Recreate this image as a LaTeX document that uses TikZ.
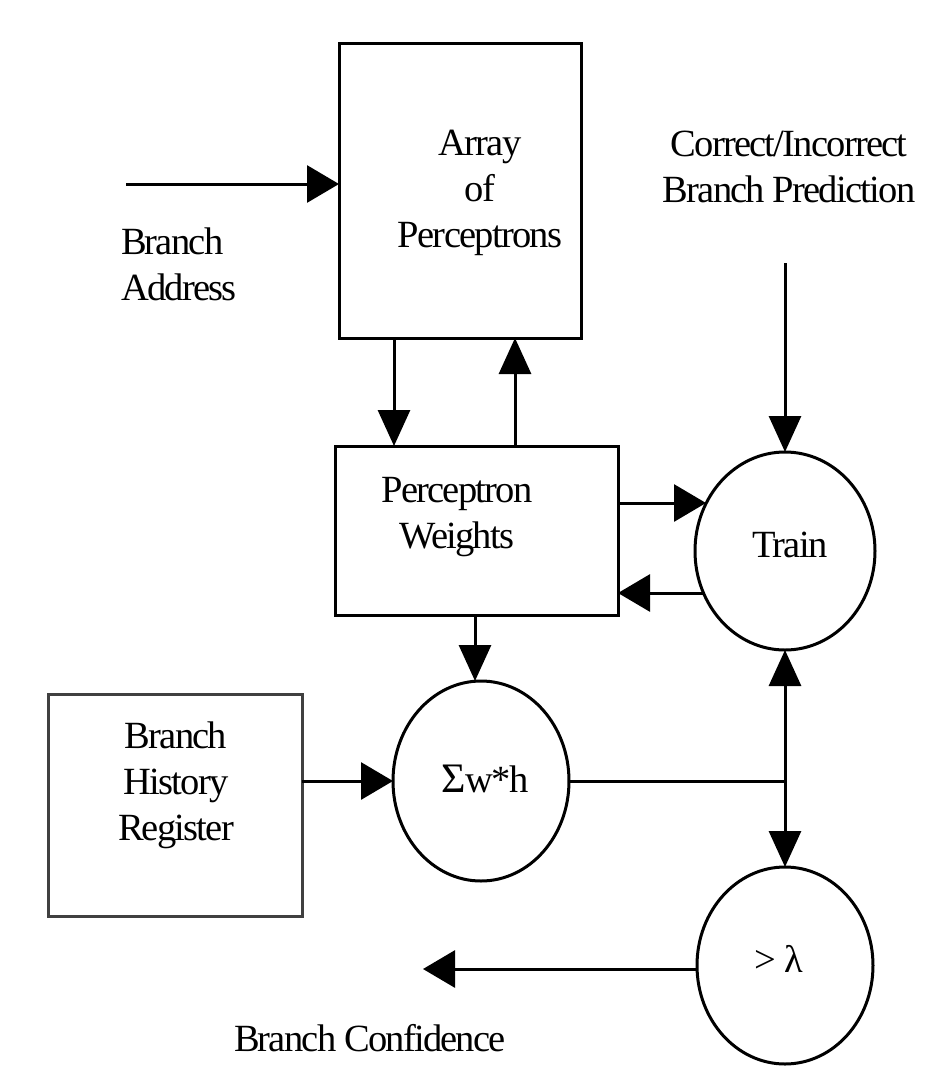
\documentclass[tikz,border=0pt]{standalone}
\usepackage{fontspec}
\setmainfont{Liberation Serif}[LetterSpace=-4.6]
\usetikzlibrary{arrows.meta,shapes.geometric}
\begin{document}
\begin{tikzpicture}[x=1pt,y=-1pt, line width=3pt,
  box/.style={draw, rectangle, inner sep=0pt, outer sep=0pt},
  oval/.style={draw, ellipse, inner sep=0pt, outer sep=0pt},
  lbl/.style={font=\fontsize{38.5}{46}\selectfont, inner sep=0pt, outer sep=0pt, anchor=base, align=center},
  harr/.style={-{Triangle[length=32pt,width=37pt]}},
  varr/.style={-{Triangle[length=36pt,width=32pt]}}]
\useasboundingbox (0,0) rectangle (948,1080);
\fill[white] (0,0) rectangle (948,1080);

% shapes
\node[box, minimum width=242pt, minimum height=295pt] (arr) at (460,190.5) {};
\node[box, minimum width=283pt, minimum height=169pt] (pw) at (476.5,530.5) {};
\node[box, draw=black!75, minimum width=254pt, minimum height=222pt] (bhr) at (175,805) {};
\node[oval, minimum width=176pt, minimum height=200pt] (sum) at (481,781) {};
\node[oval, minimum width=180pt, minimum height=198pt] (train) at (785,551) {};
\node[oval, minimum width=176pt, minimum height=197pt] (gt) at (785,965.5) {};

% texts (base anchor = baseline of the last line)
\node[lbl] (tarr) at (480,247) {Array\\of\\Perceptrons};
\node[lbl] (tpw) at (457,548) {Perceptron\\Weights};
\node[lbl, anchor=base west, align=left] (tba) at (121,300) {Branch\\Address};
\node[lbl] (tcor) at (789,202) {Correct/Incorrect\\Branch Prediction};
\node[lbl] (ttrain) at (790,557) {Train};
\node[lbl] (tbhr) at (176,840) {Branch\\History\\Register};
\node[lbl] (tsum) at (485,792) {{\fontsize{42}{46}\selectfont Σ}w*h};
\node[lbl] (tgt) at (779,972) {> λ};
\node[lbl, anchor=base west] (tbc) at (234,1051) {Branch Confidence};

% connectors
\coordinate (ba) at (126,184);
\draw[harr] (ba) -- (ba -| arr.west);
\coordinate (c1) at (394,0);
\coordinate (c2) at (515,0);
\draw[varr] (c1 |- arr.south) -- (c1 |- pw.north);
\draw[varr] (c2 |- pw.north) -- (c2 |- arr.south);
\coordinate (t1) at (706,503);
\coordinate (t2) at (704,593);
\draw[harr] (t1 -| pw.east) -- (t1);
\draw[harr] (t2) -- (t2 -| pw.east);
\coordinate (cp) at (785,263);
\draw[varr] (cp) -- (train.north);
\coordinate (c3) at (475,0);
\draw[varr] (c3 |- pw.south) -- (c3 |- sum.north);
\draw[harr] (sum.west -| bhr.east) -- (sum.west);
\coordinate (j) at (785,781);
\draw (sum.east) -- (j);
\draw[varr] (j) -- (train.south);
\draw[varr] (j) -- (gt.north);
\coordinate (bc) at (423,969);
\draw[harr] (bc -| gt.west) -- (bc);
\end{tikzpicture}
\end{document}
